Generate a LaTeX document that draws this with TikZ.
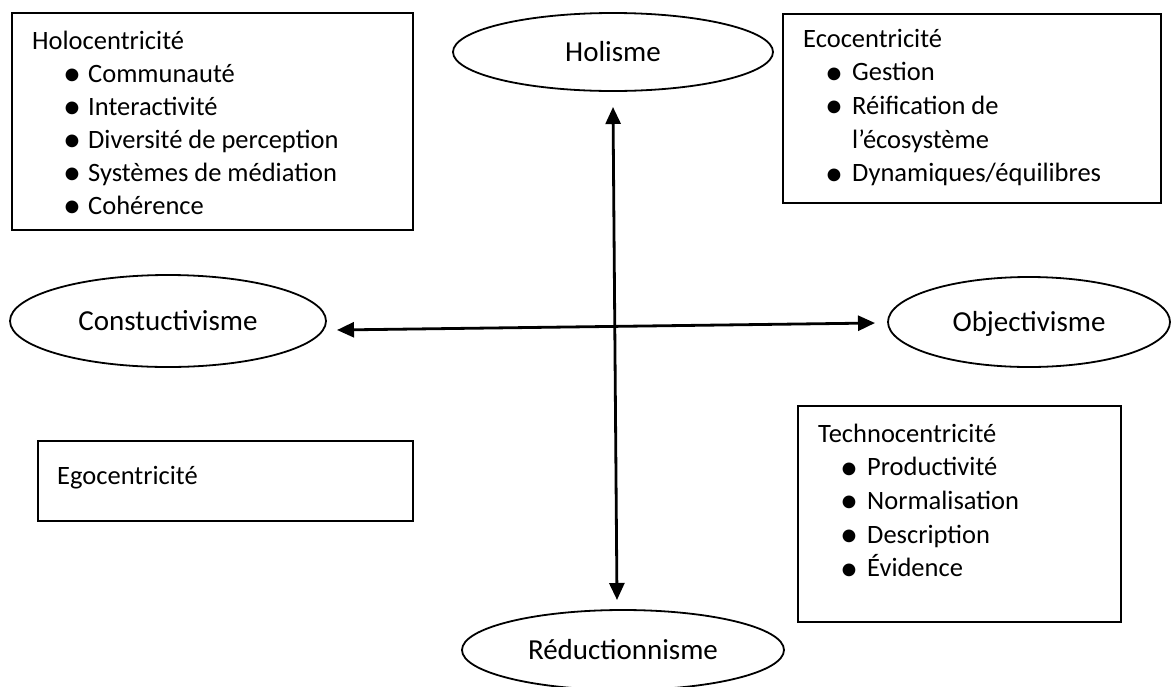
\documentclass[tikz,border=0pt]{standalone}
\usepackage{fontspec}
\setmainfont{Carlito}
\usetikzlibrary{shapes.geometric,arrows.meta}
\newcommand\bodyfnt{\fontsize{26.5}{33}\selectfont}
\newcommand\ovalfnt{\fontsize{29}{35}\selectfont}
\newcommand\bulfnt{\fontsize{36}{36}\selectfont}
\tikzset{
  box/.style={draw, line width=1.8pt, inner sep=0pt, anchor=north west},
  oval/.style={draw, ellipse, line width=1.8pt, inner sep=0pt, font=\ovalfnt, text height=19pt, text depth=0pt},
  txt/.style={anchor=base west, inner sep=0pt, font=\bodyfnt},
  bul/.style={anchor=base west, inner sep=0pt, font=\bulfnt, yshift=-3.5pt},
  axis/.style={line width=2.8pt, {Triangle[length=17pt,width=15pt]}-{Triangle[length=17pt,width=15pt]}}
}
\begin{document}
\begin{tikzpicture}[x=1pt,y=-1pt]
\useasboundingbox[fill=white] (0,0) rectangle (1172,686);
% boxes
\node[box, minimum width=401pt, minimum height=217pt] (holo) at (11,12) {};
\node[box, minimum width=378pt, minimum height=189pt] (eco) at (782,13) {};
\node[box, minimum width=323pt, minimum height=216pt] (techno) at (797,405) {};
\node[box, minimum width=375pt, minimum height=80pt] (ego) at (37,440) {};
% ellipses
\node[oval, minimum width=320pt, minimum height=78pt] (hol) at (613,52) {Holisme};
\node[oval, minimum width=316pt, minimum height=92pt] (con) at (168,321) {Constuctivisme};
\node[oval, minimum width=282pt, minimum height=90pt] (obj) at (1029,322) {Objectivisme};
\node[oval, minimum width=322pt, minimum height=80pt] (red) at (623,650) {Réductionnisme};
% axes
\coordinate (vt) at (613,107);
\coordinate (vb) at (617,600);
\coordinate (hl) at (337,330);
\coordinate (hr) at (875,323);
\draw[axis] (vt) -- (vb);
\draw[axis] (hl) -- (hr);
% Holocentricite
\node[txt] (h0) at (32,49) {Holocentricité};
\node[bul] (hb1) at (63,82) {•};
\node[txt] (h1) at (88,82) {Communauté};
\node[bul] (hb2) at (63,115) {•};
\node[txt] (h2) at (88,115) {Interactivité};
\node[bul] (hb3) at (63,148) {•};
\node[txt] (h3) at (88,148) {Diversité de perception};
\node[bul] (hb4) at (63,181) {•};
\node[txt] (h4) at (88,181) {Systèmes de médiation};
\node[bul] (hb5) at (63,214) {•};
\node[txt] (h5) at (88,214) {Cohérence};
% Ecocentricite
\node[txt] (e0) at (803,47) {Ecocentricité};
\node[bul] (eb1) at (825,80.7) {•};
\node[txt] (e1) at (852,80.7) {Gestion};
\node[bul] (eb2) at (825,114.4) {•};
\node[txt] (e2) at (852,114.4) {Réification de};
\node[txt] (e3) at (852,148.1) {l’écosystème};
\node[bul] (eb4) at (825,181.8) {•};
\node[txt] (e4) at (852,181.8) {Dynamiques/équilibres};
% Technocentricite
\node[txt] (t0) at (818,442) {Technocentricité};
\node[bul] (tb1) at (840,475.7) {•};
\node[txt] (t1) at (867,475.7) {Productivité};
\node[bul] (tb2) at (840,509.4) {•};
\node[txt] (t2) at (867,509.4) {Normalisation};
\node[bul] (tb3) at (840,543.1) {•};
\node[txt] (t3) at (867,543.1) {Description};
\node[bul] (tb4) at (840,576.8) {•};
\node[txt] (t4) at (867,576.8) {Évidence};
% Egocentricite
\node[txt] (g0) at (57,484) {Egocentricité};
\end{tikzpicture}
\end{document}
